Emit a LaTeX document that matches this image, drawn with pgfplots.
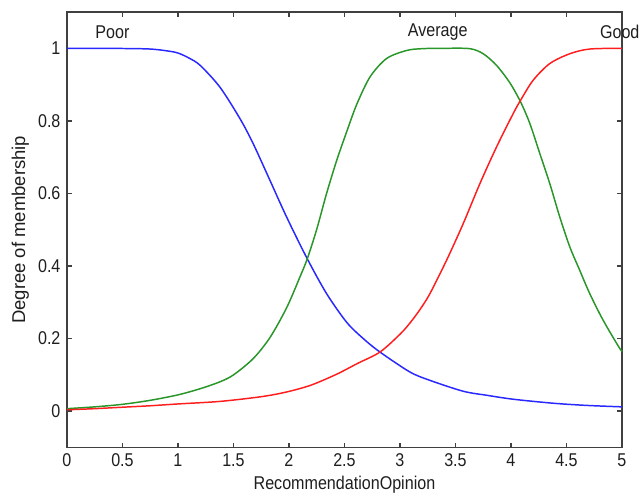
\documentclass[border=0pt]{standalone}
\usepackage{fontspec}
\setmainfont{Liberation Sans}[FakeStretch=0.87]
\newfontfamily\ylabfont{Liberation Sans}
\usepackage{pgfplots}
\pgfplotsset{compat=1.18}
\definecolor{mfblue}{RGB}{40,40,255}
\definecolor{mfgreen}{RGB}{40,150,40}
\definecolor{mfred}{RGB}{255,30,30}
\definecolor{axgray}{RGB}{64,64,64}
\definecolor{txt}{RGB}{30,30,30}

\begin{document}
\begin{tikzpicture}
\begin{axis}[
    scale only axis,
    width=300pt, height=235.4pt,
    xmin=0, xmax=5, ymin=-0.1, ymax=1.1,
    xtick={0,0.5,...,5},
    ytick={0,0.2,...,1},
    tick pos=both,
    tick align=inside,
    major tick length=2.7pt,
    axis line style={axgray, line width=0.9pt},
    every tick/.style={axgray, line width=0.8pt},
    tick label style={font=\fontsize{10}{12}\selectfont, text=txt},
    /pgf/number format/assume math mode=true,
    xlabel={RecommendationOpinion},
    ylabel={\ylabfont Degree of membership},
    label style={font=\fontsize{10}{12}\selectfont, text=txt},
    xlabel style={yshift=2pt},
    ylabel style={yshift=-2pt},
    clip=false,
]
% Poor
\addplot[mfblue, line width=0.8pt, smooth] coordinates {
(0,1.0) (0.5,0.9995) (0.75,0.998) (0.9,0.993) (1.0,0.987) (1.1,0.973)
(1.2,0.953) (1.378,0.893) (1.559,0.806) (1.678,0.737) (1.829,0.636)
(1.979,0.535) (2.165,0.42) (2.339,0.324) (2.52,0.245) (2.67,0.200)
(2.82,0.163) (3.09,0.108) (3.27,0.085) (3.57,0.055) (3.78,0.044)
(4.02,0.033) (4.38,0.022) (4.68,0.016) (5.0,0.012)
};
% Average
\addplot[mfgreen, line width=0.8pt, smooth] coordinates {
(0,0.007) (0.25,0.012) (0.5,0.019) (0.75,0.030) (1.0,0.045) (1.2,0.062)
(1.378,0.081) (1.5,0.100) (1.678,0.145) (1.829,0.203) (1.979,0.285)
(2.099,0.370) (2.165,0.42) (2.249,0.50) (2.339,0.60) (2.43,0.691)
(2.52,0.77) (2.61,0.845) (2.73,0.921) (2.88,0.972) (3.06,0.994) (3.2,0.999)
(3.4,1.0) (3.63,0.999) (3.75,0.985) (3.87,0.953) (3.99,0.905) (4.087,0.852)
(4.17,0.793) (4.26,0.71) (4.35,0.627) (4.44,0.535) (4.53,0.453) (4.62,0.388)
(4.71,0.324) (4.83,0.251) (4.98,0.173) (5.0,0.168)
};
% Good
\addplot[mfred, line width=0.8pt, smooth] coordinates {
(0,0.004) (0.25,0.007) (0.5,0.011) (0.75,0.015) (1.0,0.020) (1.378,0.027)
(1.75,0.040) (1.979,0.053) (2.2,0.072) (2.43,0.102) (2.62,0.132) (2.82,0.163)
(3.0,0.212) (3.09,0.243) (3.18,0.280) (3.27,0.324) (3.42,0.416) (3.57,0.517)
(3.72,0.627) (3.87,0.728) (4.02,0.82) (4.087,0.857) (4.20,0.912) (4.35,0.958)
(4.53,0.985) (4.71,0.998) (5.0,1.0)
};
\node[font=\fontsize{10}{12}\selectfont, text=txt] at (axis cs:0.41,1.045) {Poor};
\node[font=\fontsize{10}{12}\selectfont, text=txt] at (axis cs:3.34,1.045) {Average};
\node[font=\fontsize{10}{12}\selectfont, text=txt] at (axis cs:4.98,1.045) {Good};
\coordinate (sw) at (rel axis cs:0,0);
\coordinate (ne) at (rel axis cs:1,1);
\end{axis}
\pgfresetboundingbox
\path ([xshift=-36.2pt,yshift=-24.8pt]sw) rectangle ([xshift=10.3pt,yshift=6.5pt]ne);
\end{tikzpicture}
\end{document}
